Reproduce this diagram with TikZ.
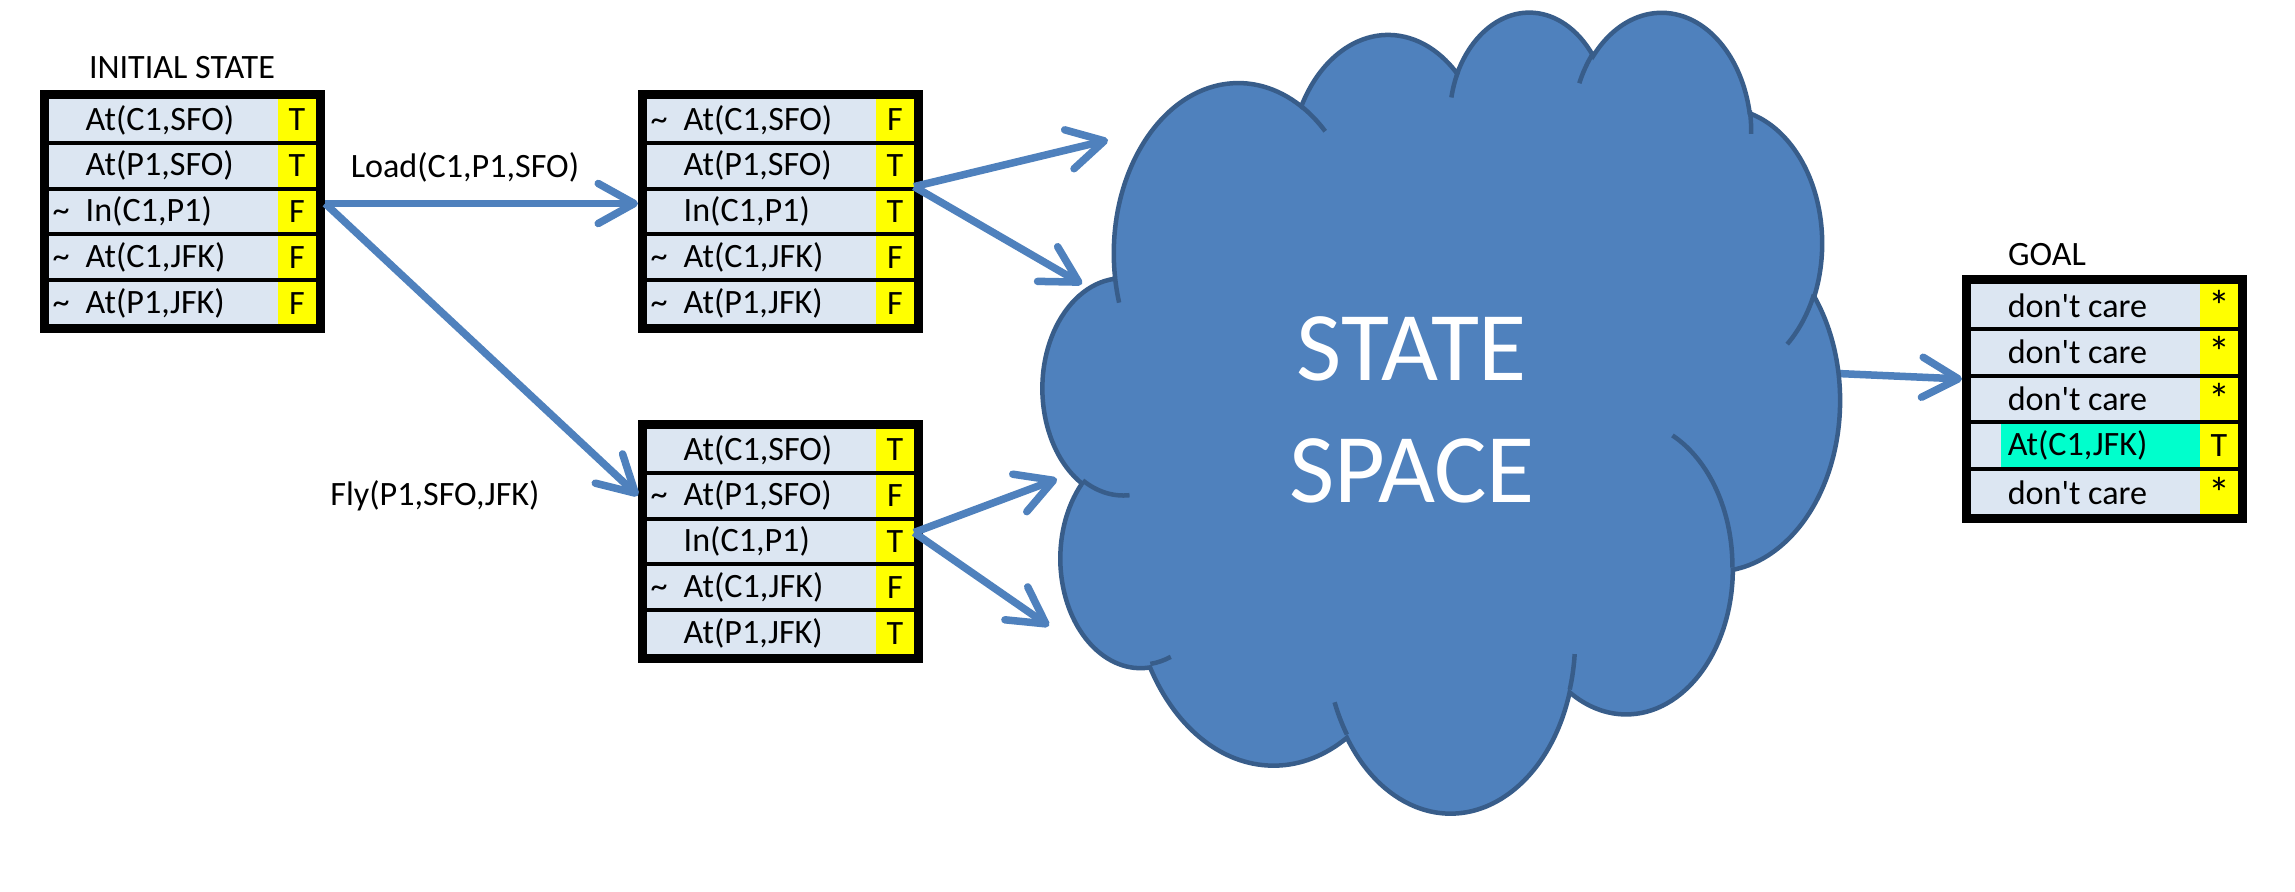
\documentclass[tikz,border=0pt]{standalone}
\usepackage{fontspec}
\setmainfont{Carlito}
\usetikzlibrary{arrows.meta,calc}
\definecolor{cellblue}{HTML}{DCE6F2}
\definecolor{yel}{HTML}{FFFF00}
\definecolor{tealc}{HTML}{00FFCC}
\definecolor{arrowblue}{HTML}{4F81BD}
\definecolor{cloudfill}{HTML}{4F81BD}
\definecolor{cloudedge}{HTML}{385D8A}
\newcommand\tfont{\fontsize{9.7}{11.6}\selectfont}
\newcommand\bigast{{\fontsize{12.5}{12.5}\selectfont *}}
\newcommand\statetable[5]{%
  \pgfmathsetlengthmacro\tblh{(5*#4+34)*0.01cm}%
  \pgfmathsetlengthmacro\tblch{#4*0.01cm}%
  \node[tbl, minimum height=\tblh] (#1) at (#2,#3) {};
  \foreach \tl/\tx/\tv [count=\i] in {#5} {
    \node[cell, minimum height=\tblch] (#1c\i) at ({#2+9},{#3+9+(\i-1)*(#4+4)}) {};
    \node[yc, minimum height=\tblch] (#1v\i) at ({#2+238},{#3+9+(\i-1)*(#4+4)}) {\tv};
    \ifnum\tl=2
      \node[tealcell, minimum height=\tblch] (#1h\i) at ({#2+39},{#3+9+(\i-1)*(#4+4)}) {};
    \fi
    \node[txt] (#1t\i) at ([xshift=0.36cm]#1c\i.west) {\tx};
    \ifnum\tl=1
      \node[txt, anchor=base west] (#1n\i) at ([xshift=-0.33cm]#1t\i.base west) {\textasciitilde};
    \fi
  }
}
\begin{document}
\begin{tikzpicture}[x=0.01cm, y=-0.01cm,
  declare function={pa(\rw,\rh,\ang)=atan2(\rw*sin(\ang),\rh*cos(\ang));},
  carc/.style n args={4}{x radius=#1, y radius=#2, start angle={pa(#1,#2,#3)},
     delta angle={mod(pa(#1,#2,#3+#4)-pa(#1,#2,#3)+720,360)}},
  tbl/.style={fill=black, inner sep=0pt, outer sep=0pt, minimum width=2.85cm, anchor=north west},
  cell/.style={fill=cellblue, inner sep=0pt, outer sep=0pt, minimum width=2.29cm, anchor=north west},
  tealcell/.style={fill=tealc, inner sep=0pt, outer sep=0pt, minimum width=1.99cm, anchor=north west},
  yc/.style={fill=yel, inner sep=0pt, outer sep=0pt, minimum width=0.38cm, anchor=north west, font=\tfont},
  txt/.style={inner sep=0pt, anchor=west, font=\tfont},
  lbl/.style={inner sep=0pt, anchor=base, font=\tfont},
  arr/.style={draw=arrowblue, line width=0.075cm, -{Straight Barb[length=0.36cm, width=0.4cm, round]}},
  cloudshape/.style={fill=cloudfill, draw=cloudedge, line width=0.045cm},
  cloudline/.style={draw=cloudedge, line width=0.045cm},
  ssfont/.style={text=white, inner sep=0pt, anchor=base, font=\fontsize{28}{34}\selectfont},
]
\path[use as bounding box, fill=white] (0,0) rectangle (2295,891);

% tables
\statetable{ini}{40}{90}{41.8}{0/{At(C1,SFO)}/T, 0/{At(P1,SFO)}/T, 1/{In(C1,P1)}/F, 1/{At(C1,JFK)}/F, 1/{At(P1,JFK)}/F}
\statetable{ld}{638}{90}{41.8}{1/{At(C1,SFO)}/F, 0/{At(P1,SFO)}/T, 0/{In(C1,P1)}/T, 1/{At(C1,JFK)}/F, 1/{At(P1,JFK)}/F}
\statetable{fl}{638}{420}{41.8}{0/{At(C1,SFO)}/T, 1/{At(P1,SFO)}/F, 0/{In(C1,P1)}/T, 1/{At(C1,JFK)}/F, 0/{At(P1,JFK)}/T}
\statetable{goal}{1962}{275}{42.8}{0/{don\textquotesingle t care}/\bigast, 0/{don\textquotesingle t care}/\bigast, 0/{don\textquotesingle t care}/\bigast, 2/{At(C1,JFK)}/T, 0/{don\textquotesingle t care}/\bigast}

% labels
\node[lbl] (initlbl) at (182,79) {INITIAL STATE};
\node[lbl] (goallbl) at (2047,265) {GOAL};
\node[lbl] (loadlbl) at (465,177) {Load(C1,P1,SFO)};
\node[lbl] (flylbl) at (435,505) {Fly(P1,SFO,JFK)};

% cloud connectors' free ends
\coordinate (c1) at (1108,140);
\coordinate (c2) at (1082,284);
\coordinate (c3) at (1057,479);
\coordinate (c4) at (1049,626);
\coordinate (cs) at (1826,373);

\draw[arr] (cs) -- ([yshift=0.2cm]goal.west);

% cloud
\begin{scope}[shift={(1043,10)}, x=0.018426cm, y=-0.018519cm]
\filldraw[cloudshape] (39.00,143.70)
  arc[carc={67.53}{91.90}{-190.4875}{123.7805}]
  arc[carc={53.33}{72.67}{-144.1024}{89.9452}]
  arc[carc={43.65}{59.45}{-145.8079}{99.7230}]
  arc[carc={48.57}{65.95}{-130.9861}{117.2417}]
  arc[carc={53.33}{72.73}{-78.7089}{109.0269}]
  arc[carc={67.75}{92.20}{-46.2673}{130.2690}]
  arc[carc={57.85}{78.67}{0.6250}{114.0333}]
  arc[carc={67.52}{92.15}{22.4516}{115.1726}]
  arc[carc={77.20}{105.43}{66.2426}{75.7110}]
  arc[carc={43.60}{59.18}{-274.9421}{146.7356}]
  arc[carc={43.45}{59.45}{-246.8285}{152.5189}]
  -- cycle;
\draw[cloudline]
  (46.93,261.77) arc[carc={43.45}{59.45}{86.7420}{26.4295}]
  (69.28,348.99) arc[carc={43.60}{59.18}{73.6105}{11.4475}]
  (164.78,390.90) arc[carc={67.52}{92.15}{137.6242}{14.0811}]
  (288.27,347.51) arc[carc={67.52}{92.15}{6.4533}{15.9984}]
  (341.29,229.54) arc[carc={57.85}{78.67}{-70.2924}{70.9174}]
  (417.98,153.54) arc[carc={53.33}{72.73}{30.3180}{27.7515}]
  (383.24,54.26) arc[carc={48.57}{65.95}{-13.7443}{14.8589}]
  (290.78,39.52) arc[carc={48.57}{65.95}{-149.1815}{18.1954}]
  (221.41,47.20) arc[carc={43.65}{59.45}{-163.4943}{17.6864}]
  (140.00,51.92) arc[carc={67.53}{91.90}{-66.7070}{12.3194}]
  (41.27,157.89) arc[carc={67.53}{91.90}{157.6544}{11.8582}];
\end{scope}
\node[ssfont] (ss1) at (1412,380) {STATE};
\node[ssfont] (ss2) at (1412,502) {SPACE};

% connectors
\draw[arr] ([yshift=0.08cm]ini.east) -- ([yshift=0.08cm]ld.west);
\draw[arr] ([yshift=0.08cm]ini.east) -- (fl.west |- flc2);
\draw[arr] (ldv2.south east) -- (c1);
\draw[arr] (ldv2.south east) -- (c2);
\draw[arr] ([yshift=0.09cm]flv3.east) -- (c3);
\draw[arr] ([yshift=0.09cm]flv3.east) -- (c4);
\end{tikzpicture}
\end{document}
